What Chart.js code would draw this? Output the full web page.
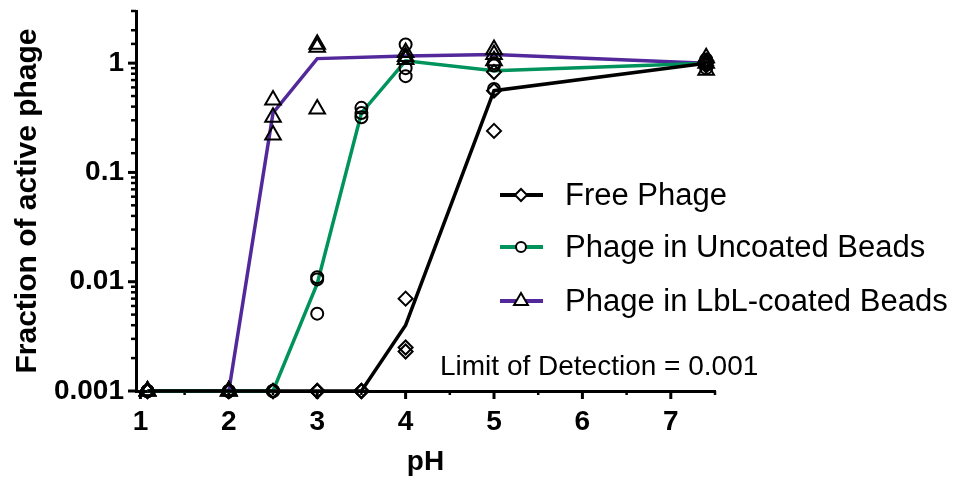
<!DOCTYPE html>
<html>
<head>
<meta charset="utf-8">
<script src="https://cdn.jsdelivr.net/npm/chart.js@4.4.1/dist/chart.umd.min.js"></script>
<style>
  html, body { margin: 0; padding: 0; background: #fff; }
  canvas { display: block; }
</style>
</head>
<body>
<canvas id="phChart" width="953" height="489"></canvas>
<script>
// pH values tested
const phLevels = [1.08, 2, 2.5, 3, 3.5, 4, 5, 7.4];

// mean fraction of active phage at each pH (null = not measured)
const freeMean     = [0.001, 0.001, 0.001, 0.001, 0.001, 0.004, 0.56, 1];
const uncoatedMean = [0.001, 0.001, 0.001, 0.0096, 0.35, 1.05, 0.85, 1];
const lblMean      = [0.001, 0.001, 0.35, 1.1, null, 1.16, 1.2, 1];

// replicate measurements, one list per pH
const freeReps = [
  [0.001, 0.001, 0.001],
  [0.001, 0.001, 0.001],
  [0.001, 0.001, 0.001],
  [0.001, 0.001, 0.001],
  [0.001, 0.001, 0.001],
  [0.007, 0.0025, 0.0023],
  [0.83, 0.56, 0.24],
  [1.05, 1.0, 0.95]
];
const uncoatedReps = [
  [0.001, 0.001, 0.001],
  [0.001, 0.001, 0.001],
  [0.001, 0.001, 0.001],
  [0.011, 0.0105, 0.0051],
  [0.39, 0.35, 0.32],
  [1.48, 0.9, 0.76],
  [1.0, 0.95, 0.58],
  [1.08, 0.97, 0.9]
];
const lblReps = [
  [0.001, 0.001, 0.001],
  [0.001, 0.001, 0.001],
  [0.46, 0.32, 0.22],
  [1.49, 1.4, 0.38],
  [],
  [1.25, 1.15, 1.08],
  [1.33, 1.2, 1.05],
  [1.12, 1.0, 0.86]
];

const xTickValues = [1, 1.5, 2, 2.5, 3, 3.5, 4, 4.5, 5, 5.5, 6, 6.5, 7, 7.5];
const yTickLabels = [0.001, 0.01, 0.1, 1];

const FONT = '"Liberation Sans", Arial, sans-serif';
const BLACK = '#000000';
const GREEN = '#00935b';
const PURPLE = '#52289a';

Chart.defaults.font.family = FONT;
Chart.defaults.color = BLACK;

function meanPoints(means) {
  return phLevels.map((ph, i) => ({ x: ph, y: means[i] })).filter(p => p.y !== null);
}
function repPoints(reps) {
  return phLevels.flatMap((ph, i) => reps[i].map(v => ({ x: ph, y: v })));
}

function pointSet(reps, style, radius) {
  return {
    data: repPoints(reps),
    showLine: false,
    pointStyle: style,
    pointRadius: radius,
    pointBorderColor: BLACK,
    pointBackgroundColor: 'rgba(0,0,0,0)',
    pointBorderWidth: 2,
    clip: false
  };
}
function lineSet(label, means, color, style) {
  return {
    label: label,
    data: meanPoints(means),
    borderColor: color,
    borderWidth: 3.5,
    pointRadius: 0,
    pointStyle: style,
    tension: 0,
    clip: false
  };
}

// shape used in the legend
function drawMarker(ctx, style, x, y, r) {
  ctx.beginPath();
  if (style === 'circle') {
    ctx.arc(x, y, r, 0, Math.PI * 2);
  } else if (style === 'rectRot') {
    ctx.moveTo(x - r, y); ctx.lineTo(x, y - r); ctx.lineTo(x + r, y); ctx.lineTo(x, y + r);
    ctx.closePath();
  } else {
    ctx.moveTo(x, y - r);
    ctx.lineTo(x + r * 0.866, y + r * 0.5);
    ctx.lineTo(x - r * 0.866, y + r * 0.5);
    ctx.closePath();
  }
  ctx.fillStyle = '#fff';
  ctx.fill();
  ctx.lineWidth = 2;
  ctx.strokeStyle = BLACK;
  ctx.stroke();
}

// major/minor tick marks of different lengths
const tickMarks = {
  id: 'tickMarks',
  beforeDatasetsDraw(chart) {
    const { ctx, scales: { x, y } } = chart;
    ctx.save();
    ctx.strokeStyle = BLACK;
    x.ticks.forEach(t => {
      const px = x.getPixelForValue(t.value);
      const major = Number.isInteger(t.value);
      ctx.lineWidth = major ? 3 : 2.5;
      ctx.beginPath();
      ctx.moveTo(px, x.top);
      ctx.lineTo(px, x.top + (major ? 8 : 4));
      ctx.stroke();
    });
    y.ticks.forEach(t => {
      const py = y.getPixelForValue(t.value);
      const lg = Math.log10(t.value);
      const major = Math.abs(lg - Math.round(lg)) < 1e-6;
      ctx.lineWidth = major ? 3 : 2.5;
      ctx.beginPath();
      ctx.moveTo(y.right, py);
      ctx.lineTo(y.right - (major ? 8 : 5), py);
      ctx.stroke();
    });
    ctx.restore();
  }
};

// legend and detection-limit note inside the plot
const annotations = {
  id: 'annotations',
  afterDraw(chart) {
    const ctx = chart.ctx;
    const rows = [195, 247, 301];
    const items = chart.data.datasets.filter(d => d.label);
    ctx.save();
    items.forEach((d, i) => {
      const yy = rows[i];
      ctx.strokeStyle = d.borderColor;
      ctx.lineWidth = 4;
      ctx.beginPath();
      ctx.moveTo(500, yy);
      ctx.lineTo(543, yy);
      ctx.stroke();
      drawMarker(ctx, d.pointStyle, 521, yy, d.pointStyle === 'triangle' ? 8 : (d.pointStyle === 'circle' ? 5 : 6));
      ctx.fillStyle = BLACK;
      ctx.font = '31px ' + FONT;
      ctx.textAlign = 'left';
      ctx.textBaseline = 'middle';
      ctx.fillText(d.label, 565, yy + 1);
    });
    ctx.font = '28px ' + FONT;
    ctx.textBaseline = 'alphabetic';
    ctx.fillText('Limit of Detection = 0.001', 440, 375);
    ctx.restore();
  }
};

new Chart(document.getElementById('phChart'), {
  type: 'line',
  data: {
    datasets: [
      pointSet(freeReps, 'rectRot', 7),
      pointSet(uncoatedReps, 'circle', 6),
      pointSet(lblReps, 'triangle', 9),
      lineSet('Free Phage', freeMean, BLACK, 'rectRot'),
      lineSet('Phage in Uncoated Beads', uncoatedMean, GREEN, 'circle'),
      lineSet('Phage in LbL-coated Beads', lblMean, PURPLE, 'triangle')
    ]
  },
  options: {
    responsive: false,
    devicePixelRatio: 1,
    animation: false,
    layout: { padding: { top: 8, right: 238, left: 0, bottom: 0 } },
    plugins: { legend: { display: false }, tooltip: { enabled: false } },
    scales: {
      x: {
        type: 'linear',
        min: 0.95,
        max: 7.5,
        afterBuildTicks: s => { s.ticks = xTickValues.map(v => ({ value: v })); },
        afterFit: s => { s.height = 98; s.paddingLeft = 0; s.paddingRight = 0; },
        border: { display: true, color: BLACK, width: 3 },
        grid: { drawOnChartArea: false, drawTicks: true, tickLength: 8, tickColor: 'rgba(0,0,0,0)' },
        ticks: {
          autoSkip: false, maxRotation: 0, padding: 6, color: BLACK,
          font: { size: 28, weight: 'bold' },
          callback: v => Number.isInteger(v) ? String(v) : ''
        },
        title: {
          display: true, text: 'pH', color: BLACK,
          font: { size: 28, weight: 'bold' },
          padding: { top: 0, bottom: 10 }
        }
      },
      y: {
        type: 'logarithmic',
        min: 0.001,
        max: 3,
        afterFit: s => { s.width = 136; s.paddingTop = 0; s.paddingBottom = 0; },
        border: { display: true, color: BLACK, width: 3 },
        grid: { drawOnChartArea: false, drawTicks: true, tickLength: 8, tickColor: 'rgba(0,0,0,0)' },
        ticks: {
          autoSkip: false, padding: 4, color: BLACK,
          font: { size: 28, weight: 'bold' },
          callback: v => {
            const hit = yTickLabels.find(l => Math.abs(v - l) / l < 1e-6);
            return hit === undefined ? '' : String(hit);
          }
        },
        title: {
          display: true, text: 'Fraction of active phage', color: BLACK,
          font: { size: 30, weight: 'bold' },
          padding: { top: 10, bottom: 0 }
        }
      }
    }
  },
  plugins: [tickMarks, annotations]
});
</script>
</body>
</html>
